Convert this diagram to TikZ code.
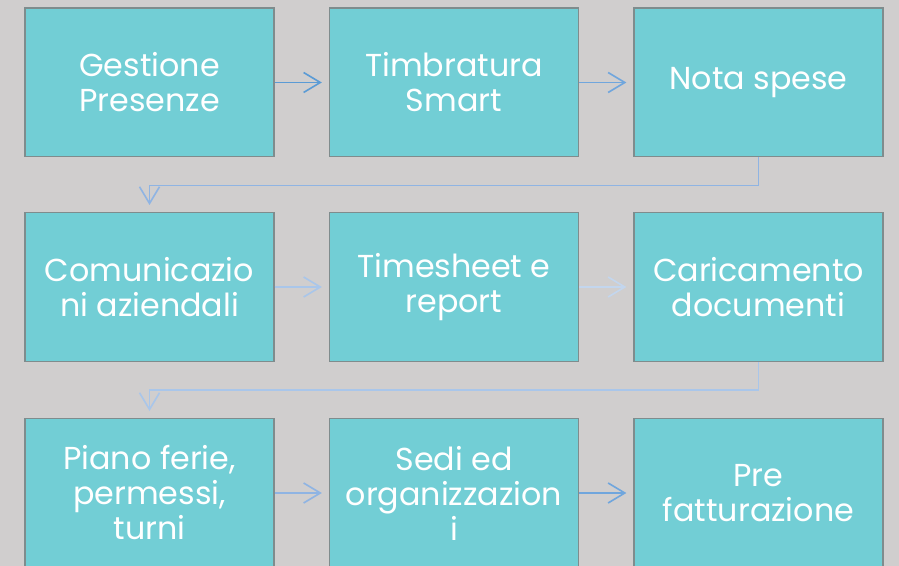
\documentclass[tikz,border=0pt]{standalone}
\usepackage{fontspec}
\setmainfont{Poppins}
\usetikzlibrary{arrows.meta}
\definecolor{bg}{HTML}{D0CECE}
\definecolor{boxfill}{HTML}{72CED5}
\definecolor{boxline}{HTML}{7F8C8D}
\definecolor{arA}{HTML}{5B9BD5}
\definecolor{arB}{HTML}{70A6DD}
\definecolor{arC}{HTML}{8FB4E3}
\definecolor{arD}{HTML}{A9C6EA}
\definecolor{arE}{HTML}{C3D6EE}
\begin{document}
\begin{tikzpicture}[x=0.75pt,y=-0.75pt,
  stepbox/.style={draw=boxline,line width=1pt,fill=boxfill,minimum width=186.75pt,minimum height=111.5pt,inner sep=0pt,align=center,text=white,font=\fontsize{23.8}{26.25}\selectfont},
  flow/.style={line width=1.2pt,-{Straight Barb[length=12.5pt,width=15pt,line width=1.2pt]}}]
\clip (0,0) rectangle (899,566);
\fill[bg] (0,0) rectangle (899,566);
\useasboundingbox (0,0) rectangle (899,566);
\node[stepbox] (n1) at (149.5,82.5) {Gestione\\Presenze};
\node[stepbox] (n2) at (454,82.5) {Timbratura\\Smart};
\node[stepbox] (n3) at (758.5,82.5) {Nota spese};
\node[stepbox] (n4) at (149.5,287) {Comunicazio\\ni aziendali};
\node[stepbox] (n5) at (454,287) {Timesheet e\\report};
\node[stepbox] (n6) at (758.5,287) {Caricamento\\documenti};
\node[stepbox] (n7) at (149.5,493) {Piano ferie,\\permessi,\\turni};
\node[stepbox] (n8) at (454,493) {Sedi ed\\organizzazion\\i};
\node[stepbox] (n9) at (758.5,493) {Pre\\fatturazione};
\coordinate (t2) at ([xshift=-5.25pt]n2.west);
\coordinate (t3) at ([xshift=-5.25pt]n3.west);
\coordinate (t5) at ([xshift=-5.25pt]n5.west);
\coordinate (t6) at ([xshift=-5.25pt]n6.west);
\coordinate (t8) at ([xshift=-5.25pt]n8.west);
\coordinate (t9) at ([xshift=-5.25pt]n9.west);
\draw[flow,arA] (n1.east) -- (t2);
\draw[flow,arB] (n2.east) -- (t3);
\draw[flow,arD] (n4.east) -- (t5);
\draw[flow,arE] (n5.east) -- (t6);
\draw[flow,arC] (n7.east) -- (t8);
\draw[flow,arB] (n8.east) -- (t9);
\coordinate (b4) at ([yshift=5.25pt]n4.north);
\coordinate (b7) at ([yshift=5.25pt]n7.north);
\draw[flow,arC] (n3.south) -- ++(0,28) -| (b4);
\draw[flow,arD] (n6.south) -- ++(0,28) -| (b7);
\end{tikzpicture}
\end{document}
